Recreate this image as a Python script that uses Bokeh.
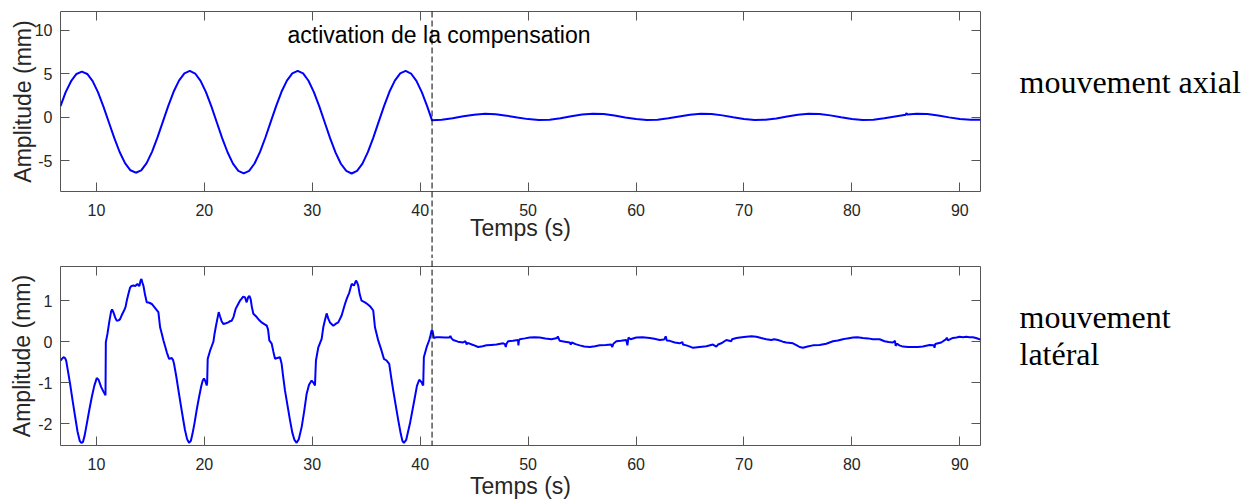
from bokeh.plotting import figure
from bokeh.layouts import column
from bokeh.models import Range1d, FixedTicker, LinearAxis, Label, CustomLabelingPolicy
from bokeh.core.properties import value
from bokeh.embed import file_html
from bokeh.resources import INLINE

# ---------------- data ----------------
# axial movement (top panel)
t_axial = [6.67, 7.15, 7.65, 8.15, 8.65, 9.15, 9.65, 10.15, 10.65, 11.15, 11.65, 12.15,
           12.65, 13.15, 13.65, 14.15, 14.65, 15.15, 15.65, 16.15, 16.65, 17.15, 17.65,
           18.15, 18.65, 19.15, 19.65, 20.15, 20.65, 21.15, 21.65, 22.15, 22.65, 23.15,
           23.65, 24.15, 24.65, 25.15, 25.65, 26.15, 26.65, 27.15, 27.65, 28.15, 28.65,
           29.15, 29.65, 30.15, 30.65, 31.15, 31.65, 32.15, 32.65, 33.15, 33.65, 34.15,
           34.65, 35.15, 35.65, 36.15, 36.65, 37.15, 37.65, 38.15, 38.65, 39.15, 39.65,
           40.15, 40.65, 41.1,
           42, 43, 44, 45, 46, 47, 48, 49, 50, 51, 52, 53, 54, 55, 56, 57, 58, 59, 60,
           61, 62, 63, 64, 65, 66, 67, 68, 69, 70, 71, 72, 73, 74, 75, 76, 77, 78, 79,
           80, 81, 82, 83, 84, 85, 85.05, 85.15, 86, 87, 88, 89, 90, 91, 91.92]
y_axial = [1.25, 2.86, 4.12, 4.95, 5.22, 4.95, 4.12, 2.84, 1.2, -0.6, -2.4, -4.02,
           -5.3, -6.12, -6.4, -6.13, -5.3, -4.0, -2.37, -0.56, 1.25, 2.9, 4.18,
           5.02, 5.3, 5.0, 4.16, 2.86, 1.22, -0.6, -2.42, -4.05, -5.35, -6.18,
           -6.47, -6.18, -5.34, -4.03, -2.38, -0.56, 1.26, 2.9, 4.18, 5.02, 5.3,
           5.01, 4.17, 2.87, 1.22, -0.6, -2.43, -4.07, -5.37, -6.2, -6.49, -6.2,
           -5.36, -4.04, -2.39, -0.56, 1.26, 2.9, 4.18, 5.02, 5.3, 5.0, 4.16,
           2.86, 1.22, -0.38,
           -0.31, -0.14, 0.08, 0.27, 0.37, 0.33, 0.16, -0.06, -0.24, -0.34, -0.30, -0.13,
           0.09, 0.28, 0.38, 0.34, 0.17, -0.05, -0.23, -0.33, -0.31, -0.15, 0.07, 0.26,
           0.37, 0.35, 0.19, -0.03, -0.22, -0.33, -0.31, -0.16, 0.06, 0.26, 0.37, 0.35,
           0.19, -0.03, -0.22, -0.33, -0.31, -0.15, 0.07, 0.27, 0.45, 0.3, 0.37, 0.34,
           0.18, -0.04, -0.22, -0.32, -0.30]

# lateral movement (bottom panel)
t_lateral = [6.67, 6.8, 6.95, 7.1, 7.2, 7.35, 7.56, 7.8, 8.03, 8.25, 8.45, 8.6, 8.75, 8.9,
             9.11, 9.35, 9.57, 9.8, 10.03, 10.2, 10.44, 10.65, 10.84, 10.87, 11.02, 11.2,
             11.36, 11.45, 11.6, 11.75, 11.89, 12.05, 12.19, 12.35, 12.56, 12.7, 12.81,
             12.95, 13.12, 13.25, 13.43, 13.6, 13.8, 13.9, 13.98, 14.1, 14.17, 14.25,
             14.36, 14.5, 14.66, 14.9, 15.13, 15.35, 15.59, 15.74, 15.9, 16.05, 16.21,
             16.35, 16.52, 16.73, 16.85, 16.98, 17.1, 17.19, 17.4, 17.6, 17.8, 18.0,
             18.2, 18.4, 18.58, 18.75, 18.9, 19.08, 19.3, 19.51, 19.7, 19.85, 19.97,
             20.1, 20.22, 20.26, 20.31, 20.53, 20.7, 20.84, 20.95, 21.08, 21.2, 21.33,
             21.45, 21.6, 21.76, 22.0, 22.22, 22.38, 22.53, 22.7, 22.9, 23.1, 23.3,
             23.46, 23.6, 23.77, 23.92, 24.05, 24.17, 24.29, 24.4, 24.54, 24.85, 25.1,
             25.31, 25.55, 25.78, 25.9, 26.02, 26.24, 26.4, 26.55, 26.75, 27.01, 27.16,
             27.3, 27.47, 27.7, 27.94, 28.15, 28.35, 28.55, 28.75, 29.02, 29.25, 29.48,
             29.7, 29.94, 30.1, 30.25, 30.34, 30.56, 30.87, 31.02, 31.15, 31.33, 31.5,
             31.64, 31.95, 32.2, 32.41, 32.72, 33.03, 33.2, 33.43, 33.65, 33.86, 34.05,
             34.15, 34.26, 34.4, 34.57, 34.88, 35.1, 35.4, 35.65, 35.81, 36.11, 36.42,
             36.64, 36.89, 37.13, 37.3, 37.5, 37.75, 37.97, 38.2, 38.35, 38.49, 38.7,
             39.05, 39.3, 39.51, 39.7, 39.91, 40.13, 40.22, 40.28, 40.34, 40.59, 40.84,
             40.95, 41.05, 41.14, 41.27, 41.5, 41.82, 42.3, 42.7, 42.8, 42.9, 43.06,
             43.5, 43.98, 44.2, 44.3, 44.4, 44.9, 45.37, 45.8, 46.14, 46.6, 47.07,
             47.69, 47.85, 47.93, 48.0, 48.15, 48.6, 49.07, 49.1, 49.15, 49.23, 49.7,
             50.15, 50.6, 51.08, 51.6, 52.16, 52.7, 52.75, 52.93, 53.4, 53.86, 53.95,
             54.05, 54.4, 54.78, 55.2, 55.71, 56.2, 56.64, 57.2, 57.7, 57.8, 57.9,
             58.18, 58.6, 59.1, 59.2, 59.3, 59.5, 60.03, 60.6, 61.27, 61.7, 62.19,
             62.6, 62.75, 62.85, 63.12, 63.6, 64.04, 64.3, 64.35, 64.66, 65.0, 65.28,
             65.9, 66.52, 67.13, 67.44, 67.6, 67.9, 68.37, 68.83, 68.9, 69.3, 69.8,
             70.22, 70.7, 71.15, 71.6, 72.07, 72.54, 72.8, 73.15, 73.6, 73.92, 74.54,
             74.9, 75.16, 75.47, 75.9, 76.39, 77.0, 77.63, 78.25, 78.7, 79.17, 79.6,
             80.1, 80.5, 81.02, 81.5, 81.95, 82.57, 83.03, 83.4, 83.8, 84.0, 84.05,
             84.2, 84.4, 84.73, 85.2, 85.65, 86.1, 86.58, 87.2, 87.6, 87.66, 87.72,
             87.81, 88.28, 88.74, 88.8, 88.9, 89.36, 89.7, 89.97, 90.3, 90.59, 90.9,
             91.21, 91.5, 91.83, 91.92]
y_lateral = [-0.46, -0.42, -0.38, -0.4, -0.47, -0.7, -1.03, -1.45, -1.84, -2.2, -2.42, -2.47,
             -2.45, -2.3, -2.0, -1.65, -1.35, -1.08, -0.89, -0.93, -1.11, -1.22, -1.31,
             -0.01, 0.19, 0.5, 0.74, 0.79, 0.7, 0.58, 0.51, 0.52, 0.55, 0.65, 0.76, 0.85,
             1.0, 1.15, 1.32, 1.36, 1.37, 1.36, 1.41, 1.37, 1.36, 1.5, 1.53, 1.45, 1.36,
             1.15, 0.96, 0.95, 0.92, 0.85, 0.77, 0.72, 0.35, 0.2, 0.03, -0.1, -0.26,
             -0.42, -0.41, -0.40, -0.45, -0.54, -0.85, -1.19, -1.52, -1.84, -2.15, -2.38,
             -2.47, -2.42, -2.25, -2.0, -1.65, -1.35, -1.1, -0.95, -0.9, -0.97, -1.07,
             -1.0, -0.42, -0.22, -0.1, 0.0, 0.2, 0.39, 0.55, 0.72, 0.62, 0.5, 0.43,
             0.45, 0.47, 0.5, 0.51, 0.6, 0.8, 0.9, 1.0, 1.05, 1.1, 1.08, 0.96, 1.08,
             1.12, 1.04, 0.85, 0.68, 0.6, 0.52, 0.47, 0.43, 0.39, 0.3, 0.03, -0.05,
             -0.25, -0.42, -0.4, -0.38, -0.54, -0.85, -1.19, -1.55, -1.92, -2.22, -2.4,
             -2.47, -2.38, -2.08, -1.7, -1.27, -1.05, -0.95, -1.0, -1.07, -0.46, -0.14,
             0.07, 0.35, 0.5, 0.69, 0.55, 0.47, 0.39, 0.44, 0.47, 0.64, 0.92, 1.05, 1.2,
             1.41, 1.37, 1.49, 1.45, 1.37, 1.15, 1.0, 0.96, 0.92, 0.85, 0.76, 0.35, 0.03,
             -0.22, -0.42, -0.46, -0.54, -0.85, -1.19, -1.58, -1.92, -2.25, -2.42, -2.47,
             -2.4, -2.0, -1.65, -1.35, -1.08, -0.93, -0.99, -1.05, -1.07, -0.38, -0.14,
             0.04, 0.15, 0.27, 0.27, 0.09, 0.11, 0.11, 0.1, 0.1, 0.14, 0.08, 0.04,
             0.0, -0.02, 0.01, -0.07, -0.03, -0.08, -0.13, -0.11, -0.09, -0.08, -0.07,
             -0.04, -0.06, -0.13, -0.05, 0.01, 0.02, 0.04, -0.09, 0.03, 0.06, 0.08,
             0.1, 0.11, 0.1, 0.08, 0.06, 0.09, 0.13, 0.02, 0.0, -0.02, -0.07,
             -0.02, -0.06, -0.09, -0.12, -0.13, -0.11, -0.09, -0.08, -0.07, -0.13, -0.05,
             0.01, 0.02, 0.04, -0.09, 0.1, 0.06, 0.1, 0.11, 0.09, 0.07, 0.04,
             0.05, 0.13, 0.03, 0.02, -0.02, -0.04, -0.01, -0.07, -0.09, -0.12, -0.15,
             -0.13, -0.11, -0.07, -0.12, -0.07, -0.04, 0.04, 0.01, 0.06, 0.09, 0.11,
             0.12, 0.13, 0.12, 0.09, 0.06, 0.04, 0.06, 0.04, 0.0, -0.02, -0.04,
             -0.09, -0.13, -0.15, -0.12, -0.09, -0.08, -0.05, 0.01, 0.03, 0.06, 0.08,
             0.1, 0.11, 0.09, 0.08, 0.06, 0.06, 0.01, -0.01, -0.02, 0.02, -0.1,
             -0.05, -0.09, -0.12, -0.13, -0.13, -0.13, -0.12, -0.08, -0.09, -0.15, -0.06,
             -0.05, -0.02, 0.06, 0.1, 0.03, 0.09, 0.1, 0.12, 0.11, 0.12, 0.11,
             0.11, 0.09, 0.06, 0.06]

x_ticks = [10, 20, 30, 40, 50, 60, 70, 80, 90]
axial_y_ticks = [-5, 0, 5, 10]
lateral_y_ticks = [-2, -1, 0, 1]
x_limits = (6.67, 91.92)
axial_y_limits = (-8.56, 12.13)
lateral_y_limits = (-2.535, 1.835)
activation_time = 41.1

x_title = "Temps (s)"
y_title = "Amplitude (mm)"
activation_text = "activation de la compensation"
axial_name = "mouvement axial"
lateral_name = ["mouvement", "latéral"]

# ---------------- style ----------------
SANS = "Liberation Sans"
SERIF = "Liberation Serif"
FRAME = "#555555"
TXT = "#262626"
BLUE = "#0000ff"
FRAME_W = 920
LEFT = 60
RIGHT = 270


def style_axis(ax, ticks, standoff):
    ax.ticker = FixedTicker(ticks=ticks)
    ax.axis_line_color = None
    ax.major_tick_in = 9
    ax.major_tick_out = 0
    ax.major_tick_line_color = FRAME
    ax.minor_tick_line_color = None
    ax.major_label_text_font = SANS
    ax.major_label_text_color = TXT
    ax.major_label_text_font_size = "16px"
    ax.major_label_standoff = standoff
    ax.major_label_overrides = {v: str(v) for v in ticks}
    ax.axis_label_text_font = SANS
    ax.axis_label_text_font_size = "23px"
    ax.axis_label_text_font_style = "normal"
    ax.axis_label_text_color = TXT


def tick_only_axis(ticks):
    ax = LinearAxis()
    style_axis(ax, ticks, 0)
    ax.major_label_text_font_size = "1px"
    ax.major_label_policy = CustomLabelingPolicy(code="return []")
    return ax


def make_panel(t, y, ylim, yticks, top, frame_h, bottom, with_x_title, ylab_standoff):
    p = figure(frame_width=FRAME_W, frame_height=frame_h,
               x_range=Range1d(*x_limits), y_range=Range1d(*ylim),
               min_border_left=LEFT, min_border_right=RIGHT,
               min_border_top=top, min_border_bottom=bottom,
               output_backend="svg", toolbar_location=None)
    p.grid.visible = False
    p.outline_line_color = FRAME
    p.outline_line_width = 1
    p.background_fill_color = "white"
    p.border_fill_color = "white"
    for ax in p.xaxis:
        style_axis(ax, x_ticks, 12)
        if with_x_title:
            ax.axis_label = x_title
            ax.axis_label_standoff = -4
    for ax in p.yaxis:
        style_axis(ax, yticks, 8)
        ax.axis_label = y_title
        ax.axis_label_standoff = ylab_standoff
    p.add_layout(tick_only_axis(x_ticks), "above")
    p.add_layout(tick_only_axis(yticks), "right")
    p.line(t, y, line_color=BLUE, line_width=2)
    return p


p1 = make_panel(t_axial, y_axial, axial_y_limits, axial_y_ticks, 11, 180, 67, True, -4)
p2 = make_panel(t_lateral, y_lateral, lateral_y_limits, lateral_y_ticks, 8, 179, 56, False, 0)

# dashed activation line, running through both panels and the gap between them
p1.segment(x0=[activation_time], y0=[axial_y_limits[1]], x1=[activation_time],
           y1=[axial_y_limits[0] - 30], line_color="black", line_width=1,
           line_dash="6 3", level="overlay")
p2.segment(x0=[activation_time], y0=[lateral_y_limits[1] + 3], x1=[activation_time],
           y1=[lateral_y_limits[0]], line_color="black", line_width=1,
           line_dash="6 3", level="overlay")

p1.add_layout(Label(x=287, y=34, x_units="canvas", y_units="canvas", text=activation_text,
                    text_font=SANS, text_font_size="23px", text_color="black",
                    text_baseline="alphabetic", text_align="left"))

# texts outside the frames (anchored at frame corners, offsets in pixels)
side = dict(text_font=value(SERIF), text_font_size=value("32px"), text_color="black",
            text_baseline="alphabetic", text_align="left", level="overlay")
p1.text(x=[x_limits[1]], y=[axial_y_limits[1]], text=[axial_name],
        x_offset=39, y_offset=70, **side)
p2.text(x=[x_limits[1]], y=[lateral_y_limits[1]], text=[lateral_name[0]],
        x_offset=39, y_offset=50, **side)
p2.text(x=[x_limits[1]], y=[lateral_y_limits[1]], text=[lateral_name[1]],
        x_offset=39, y_offset=87, **side)

p2.text(x=[(x_limits[0] + x_limits[1]) / 2], y=[lateral_y_limits[0]], text=[x_title],
        y_offset=40, text_font=value(SANS), text_font_size=value("23px"), text_color=TXT,
        text_baseline="alphabetic", text_align="center", level="overlay")

layout = column(p1, p2, spacing=0)
open("out.html", "w").write(file_html(layout, INLINE))
